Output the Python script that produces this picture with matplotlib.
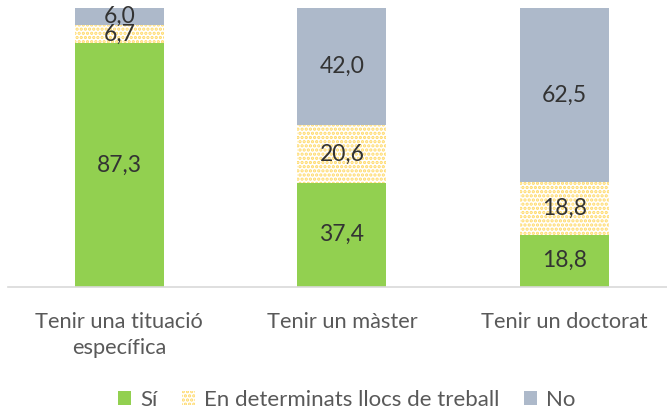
import numpy as np
import matplotlib.pyplot as plt
import matplotlib as mpl

plt.rcParams['font.family'] = ['Lato', 'DejaVu Sans']
mpl.rcParams['hatch.linewidth'] = 1.6

categories = ["Tenir una tituació\nespecífica", "Tenir un màster", "Tenir un doctorat"]
si = [87.3, 37.4, 18.8]
llocs = [6.7, 20.6, 18.8]
no = [6.0, 42.0, 62.5]

green = '#92D050'
yellow = '#FFD966'
grey = '#ADB9CA'
txt = '#333333'

fig = plt.figure(figsize=(6.67, 4.15), dpi=100)
ax = fig.add_axes([8 / 667, 1 - 287 / 415, 1 - 8 / 667, 279 / 415])

x = np.arange(len(categories))
w = 0.4
si = np.array(si)
llocs = np.array(llocs)
no = np.array(no)

b1 = ax.bar(x, si, w, color=green, label='Sí')
b2 = ax.bar(x, llocs, w, bottom=si, facecolor='white', edgecolor=yellow,
            hatch='....', linewidth=0, label='En determinats llocs de treball')
b3 = ax.bar(x, no, w, bottom=si + llocs, color=grey, label='No')

for bars, vals, bots in [(b1, si, np.zeros(3)), (b2, llocs, si), (b3, no, si + llocs)]:
    for i in range(len(vals)):
        ax.text(x[i], bots[i] + vals[i] / 2, f"{vals[i]:.1f}".replace('.', ','),
                ha='center', va='center', fontsize=16.5, color=txt)

ax.set_ylim(0, 100)
ax.set_xlim(-0.5, 2.46)
ax.set_yticks([])
ax.set_xticks(x)
ax.set_xticklabels(categories, fontsize=15.7, color='#595959', linespacing=1.35)
ax.tick_params(axis='x', length=0, pad=18)
for s in ['top', 'right', 'left']:
    ax.spines[s].set_visible(False)
ax.spines['bottom'].set_color('#D9D9D9')
ax.spines['bottom'].set_linewidth(1.2)

fig.legend(handles=[b1, b2, b3], loc='center', bbox_to_anchor=(0.52, 1 - 400 / 415),
           ncol=3, frameon=False, fontsize=16, handlelength=0.6, handleheight=0.6,
           columnspacing=1.1, handletextpad=0.4, labelcolor='#595959')

fig.savefig('out.png', dpi=100)
